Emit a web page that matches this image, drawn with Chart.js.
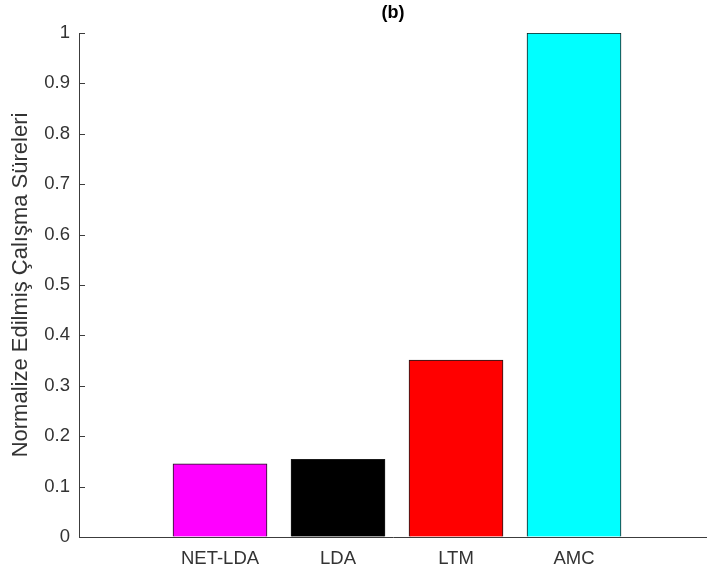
<!DOCTYPE html>
<html>
<head>
<meta charset="utf-8">
<script src="https://cdn.jsdelivr.net/npm/chart.js@4/dist/chart.umd.min.js"></script>
<style>
  html, body { margin: 0; padding: 0; background: #ffffff; }
  #wrap { width: 707px; height: 573px; }
</style>
</head>
<body>
<div id="wrap"><canvas id="c" width="707" height="573"></canvas></div>
<script>
// Normalised running times per method
const categories = ['NET-LDA', 'LDA', 'LTM', 'AMC'];
const values = [0.145, 0.154, 0.351, 1.0];
const barColors = ['#ff00ff', '#000000', '#ff0000', '#00ffff'];
const yTickValues = [0, 0.1, 0.2, 0.3, 0.4, 0.5, 0.6, 0.7, 0.8, 0.9, 1];
const yTickLabels = ['0', '0.1', '0.2', '0.3', '0.4', '0.5', '0.6', '0.7', '0.8', '0.9', '1'];
const titleText = '(b)';
const yAxisTitle = 'Normalize Edilmiş Çalışma Süreleri';

const FONT = "'Liberation Sans', Arial, Helvetica, sans-serif";
const AXIS_COLOR = '#3c3c3c';
const TEXT_COLOR = '#333333';

// white page behind the plot
const whiteBg = {
  id: 'whiteBg',
  beforeDraw(chart) {
    const ctx = chart.ctx;
    ctx.save();
    ctx.fillStyle = '#ffffff';
    ctx.fillRect(0, 0, chart.width, chart.height);
    ctx.restore();
  }
};

// short tick marks pointing into the plot from the y axis
const innerTicks = {
  id: 'innerTicks',
  afterDraw(chart) {
    const y = chart.scales.y;
    const area = chart.chartArea;
    const ctx = chart.ctx;
    ctx.save();
    ctx.strokeStyle = AXIS_COLOR;
    ctx.lineWidth = 1;
    y.ticks.forEach(t => {
      const py = Math.round(y.getPixelForValue(t.value)) + 0.5;
      ctx.beginPath();
      ctx.moveTo(area.left, py);
      ctx.lineTo(area.left + 6, py);
      ctx.stroke();
    });
    ctx.restore();
  }
};

new Chart(document.getElementById('c'), {
  type: 'bar',
  data: {
    datasets: [{
      data: categories.map((c, i) => ({ x: i + 1, y: values[i] })),
      backgroundColor: barColors,
      borderColor: '#1a1a1a',
      borderWidth: 1,
      barThickness: 94
    }]
  },
  options: {
    responsive: false,
    devicePixelRatio: 1,
    animation: false,
    layout: { padding: { left: 0, right: 0, top: 0, bottom: 0 } },
    plugins: {
      legend: { display: false },
      tooltip: { enabled: false },
      title: {
        display: true,
        text: titleText,
        fullSize: false,
        color: '#000000',
        font: { family: FONT, size: 18, weight: 'bold', lineHeight: 1.2 },
        padding: { top: 2, bottom: 9.4 }
      }
    },
    scales: {
      x: {
        type: 'linear',
        offset: false,
        min: -0.195,
        max: 5.127,
        afterBuildTicks(scale) {
          scale.ticks = categories.map((c, i) => ({ value: i + 1 }));
        },
        afterFit(scale) { scale.height = 36; },
        ticks: {
          autoSkip: false,
          maxRotation: 0,
          padding: 11,
          color: TEXT_COLOR,
          font: { family: FONT, size: 18.5 },
          callback: (v) => categories[v - 1]
        },
        grid: { drawOnChartArea: false, drawTicks: false, offset: false },
        border: { display: true, color: AXIS_COLOR, width: 1 }
      },
      y: {
        type: 'linear',
        min: 0,
        max: 1,
        afterBuildTicks(scale) {
          scale.ticks = yTickValues.map(v => ({ value: v }));
        },
        afterFit(scale) { scale.width = 79; },
        ticks: {
          autoSkip: false,
          padding: 9,
          color: TEXT_COLOR,
          font: { family: FONT, size: 18.5 },
          callback: (v) => yTickLabels[yTickValues.indexOf(v)]
        },
        grid: { drawOnChartArea: false, drawTicks: false },
        border: { display: true, color: AXIS_COLOR, width: 1 },
        title: {
          display: true,
          text: yAxisTitle,
          color: TEXT_COLOR,
          font: { family: FONT, size: 22, lineHeight: 1.2 },
          padding: { top: 8, bottom: 0 }
        }
      }
    }
  },
  plugins: [whiteBg, innerTicks]
});
</script>
</body>
</html>
